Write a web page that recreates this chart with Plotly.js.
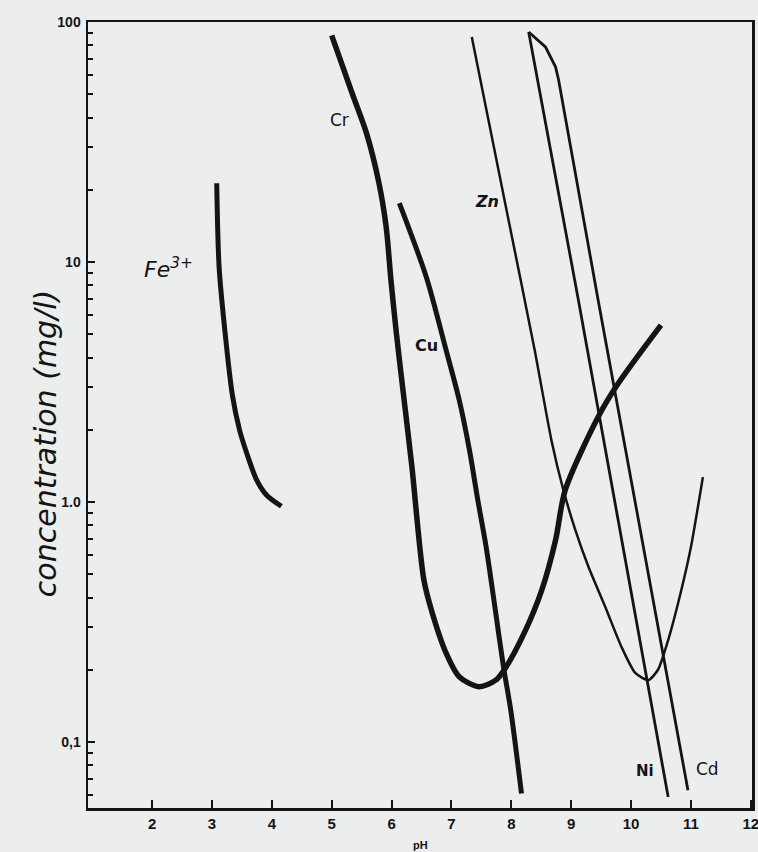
<!DOCTYPE html>
<html>
<head>
<meta charset="utf-8">
<script src="https://cdn.plot.ly/plotly-3.0.1.min.js"></script>
<style>html,body{margin:0;padding:0;background:#eceeee;}#chart{width:758px;height:852px;}</style>
</head>
<body>
<div id="chart"></div>
<script>
// pH values and concentrations (mg/l)
const fePH = [3.08, 3.12, 3.22, 3.34, 3.46, 3.58, 3.75, 3.91, 4.16];
const feC  = [21.3, 9.5, 5.06, 2.8, 2.0, 1.6, 1.23, 1.07, 0.96];

const crPH = [5.0, 5.34, 5.58, 5.79, 5.91, 5.99, 6.08, 6.21, 6.34, 6.54, 6.68, 6.91, 7.13, 7.46, 7.74, 7.91, 8.24, 8.51, 8.74, 8.9, 9.45, 9.79, 10.5];
const crC  = [88, 50.6, 34.5, 21.3, 14.0, 8.4, 5.06, 2.66, 1.4, 0.473, 0.345, 0.235, 0.187, 0.17, 0.181, 0.205, 0.293, 0.43, 0.695, 1.12, 2.26, 3.13, 5.46];

const cuPH = [6.13, 6.58, 6.91, 7.13, 7.3, 7.44, 7.58, 7.74, 7.87, 7.99, 8.17];
const cuC  = [17.6, 8.66, 4.3, 2.66, 1.65, 1.02, 0.649, 0.345, 0.205, 0.136, 0.061];

const znPH = [7.34, 7.93, 8.39, 8.67, 8.87, 9.07, 9.29, 9.57, 9.84, 10.07, 10.29, 10.45, 10.62, 10.84, 11.0, 11.2];
const znC  = [86.6, 16.0, 4.3, 1.81, 1.12, 0.764, 0.536, 0.365, 0.249, 0.194, 0.181, 0.2, 0.266, 0.43, 0.649, 1.27];

const niPH = [8.29, 9.12, 10.62];
const niC  = [90.9, 6.95, 0.059];

const cdPH = [8.29, 8.57, 8.74, 8.79, 9.45, 10.95];
const cdC  = [90.9, 78.7, 64.9, 57.3, 6.95, 0.063];

const xTicks = [2, 3, 4, 5, 6, 7, 8, 9, 10, 11, 12];
const yTickVals = [0.1, 1, 10, 100];
const yTickText = ['0,1', '1.0', '10', '100'];

const ink = '#141414';
const yMinor = [];
[0.01, 0.1, 1, 10].forEach(d => { for (let k = 2; k <= 9; k++) yMinor.push(k * d); });

function curve(x, y, w, shape, sm) {
  return {x: x, y: y, type: 'scatter', mode: 'lines',
          line: {color: ink, width: w, shape: shape || 'spline', smoothing: sm || 0.8},
          hoverinfo: 'skip', showlegend: false};
}

const data = [
  curve(fePH, feC, 5),
  curve(crPH, crC, 5.5),
  curve(cuPH, cuC, 5),
  curve(znPH, znC, 2.5, 'spline', 0.6),
  curve(niPH, niC, 2.8, 'linear'),
  curve(cdPH, cdC, 2.8, 'linear')
];

const lblFont = {family: 'DejaVu Sans', size: 17, color: ink};
const layout = {
  width: 758, height: 852,
  margin: {l: 88, r: 6, t: 22, b: 44},
  paper_bgcolor: '#eceeee', plot_bgcolor: '#eceeee',
  showlegend: false,
  xaxis: {
    range: [0.93, 12.02], tickmode: 'array', tickvals: xTicks,
    ticks: 'inside', ticklen: 8, tickwidth: 2, tickcolor: ink,
    showline: true, linecolor: ink, linewidth: 2.5, mirror: true,
    showgrid: false, zeroline: false, ticklabeloverflow: 'allow',
    tickfont: {family: 'Liberation Sans', size: 15, color: ink, weight: 'bold'}
  },
  yaxis: {
    type: 'log', range: [-1.275, 2.0],
    tickmode: 'array', tickvals: yTickVals, ticktext: yTickText,
    ticks: 'inside', ticklen: 7, tickwidth: 2, tickcolor: ink,
    minor: {tickmode: 'array', tickvals: yMinor, ticks: 'inside', ticklen: 5, tickwidth: 2, tickcolor: ink, showgrid: false},
    showline: true, linecolor: ink, linewidth: 2.5, mirror: true,
    showgrid: false, zeroline: false, ticklabelstandoff: 2,
    tickfont: {family: 'Liberation Sans', size: 14, color: ink, weight: 'bold'}
  },
  annotations: [
    {x: 2.27, y: Math.log10(9.4), text: 'Fe<sup>3+</sup>', showarrow: false, font: {family: 'DejaVu Sans', size: 22, color: ink, style: 'italic'}},
    {x: 5.13, y: Math.log10(39), text: 'Cr', showarrow: false, font: lblFont},
    {x: 6.59, y: Math.log10(4.5), text: 'Cu', showarrow: false, font: {family: 'DejaVu Sans', size: 16, color: ink, weight: 'bold'}},
    {x: 7.59, y: Math.log10(17.9), text: 'Zn', showarrow: false, font: {family: 'DejaVu Sans', size: 16, color: ink, weight: 'bold', style: 'italic'}},
    {x: 10.24, y: Math.log10(0.0757), text: 'Ni', showarrow: false, font: {family: 'DejaVu Sans', size: 15, color: ink, weight: 'bold'}},
    {x: 11.27, y: Math.log10(0.077), text: 'Cd', showarrow: false, font: lblFont},
    {xref: 'paper', yref: 'paper', x: -0.065, y: 0.464, xanchor: 'center', yanchor: 'middle',
     text: 'concentration (mg/l)', textangle: -90, showarrow: false,
     font: {family: 'DejaVu Sans', size: 30, color: ink, style: 'italic'}},
    {xref: 'paper', yref: 'paper', x: 0.5, y: -0.047, text: 'pH', showarrow: false, yanchor: 'middle',
     font: {family: 'Liberation Sans', size: 11, color: ink, weight: 'bold'}}
  ]
};

Plotly.newPlot('chart', data, layout, {displayModeBar: false, staticPlot: true});
</script>
</body>
</html>
